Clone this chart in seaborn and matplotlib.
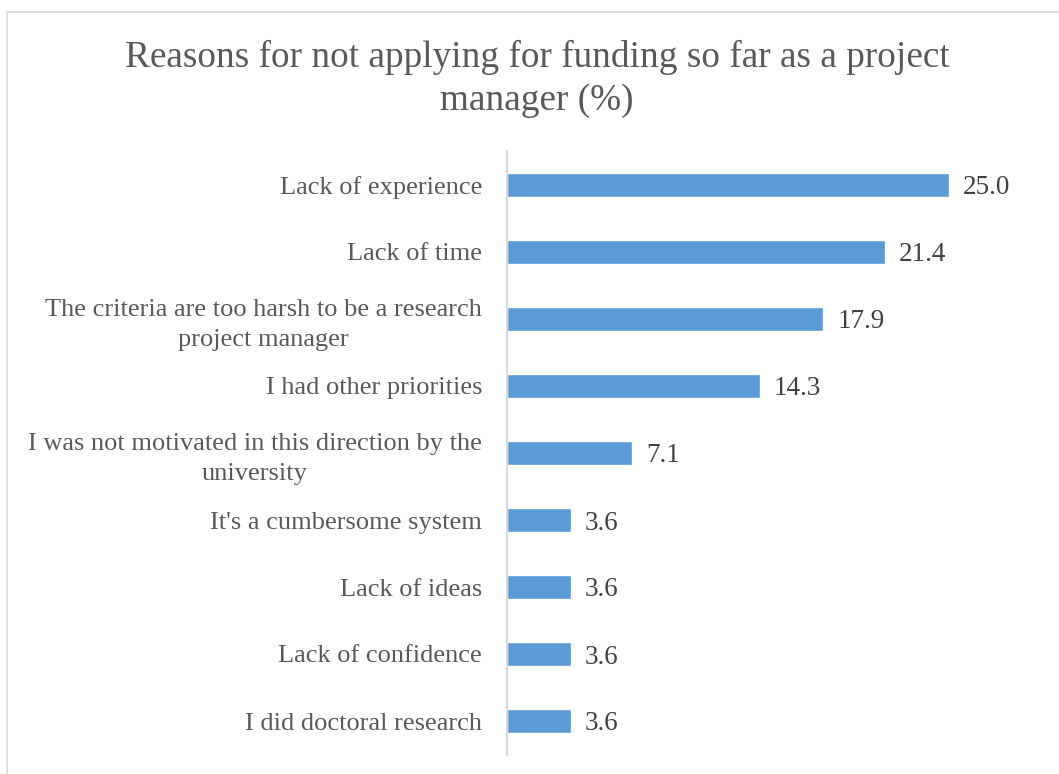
import matplotlib
matplotlib.use("Agg")
import matplotlib.pyplot as plt
import seaborn as sns
import pandas as pd
from matplotlib.patches import Rectangle

categories = [
    "Lack of experience",
    "Lack of time",
    "The criteria are too harsh to be a research\nproject manager",
    "I had other priorities",
    "I was not motivated in this direction by the\nuniversity",
    "It's a cumbersome system",
    "Lack of ideas",
    "Lack of confidence",
    "I did doctoral research",
]
values = [25.0, 21.4, 17.9, 14.3, 7.1, 3.6, 3.6, 3.6, 3.6]
title = "Reasons for not applying for funding so far as a project\nmanager (%)"

sns.set_theme(style="white")
plt.rcParams["font.family"] = ["Liberation Serif", "DejaVu Serif"]

df = pd.DataFrame({"reason": categories, "pct": values})

W, H = 1059, 774
fig = plt.figure(figsize=(W / 100, H / 100), dpi=100)
fig.patch.set_facecolor("white")

# outer chart border
fig.add_artist(Rectangle((7 / W, -0.05), 1.2, 1 - 12 / H + 0.05, transform=fig.transFigure,
                         fill=False, edgecolor="#d9d9d9", linewidth=1.2))

ax = fig.add_axes([507 / W, (774 - 754.5) / H, 530 / W, (754.5 - 151.5) / H])
sns.barplot(data=df, y="reason", x="pct", orient="h", color="#5b9bd5", saturation=1,
            width=0.36, ax=ax)
ax.set_xlim(0, 30)
ax.set_ylim(len(categories) - 0.5, -0.5)
ax.set_xlabel("")
ax.set_ylabel("")
ax.set_xticks([])
for s in ["top", "right", "bottom"]:
    ax.spines[s].set_visible(False)
ax.spines["left"].set_color("#d9d9d9")
ax.spines["left"].set_linewidth(1.5)
ax.tick_params(axis="y", length=0, pad=18, labelsize=19, labelcolor="#595959")
for lbl in ax.get_yticklabels():
    lbl.set_multialignment("center")
    lbl.set_linespacing(1.45)

for c in ax.containers:
    labels = ax.bar_label(c, fmt="%.1f", padding=10, fontsize=19.5, color="#404040")
    for t in labels:
        t.set_va("center_baseline")

fig.text(537 / W, 1 - 78.5 / H, title, ha="center", va="center", fontsize=26.8,
         color="#595959", linespacing=1.32)

fig.savefig("out.png", dpi=100)
